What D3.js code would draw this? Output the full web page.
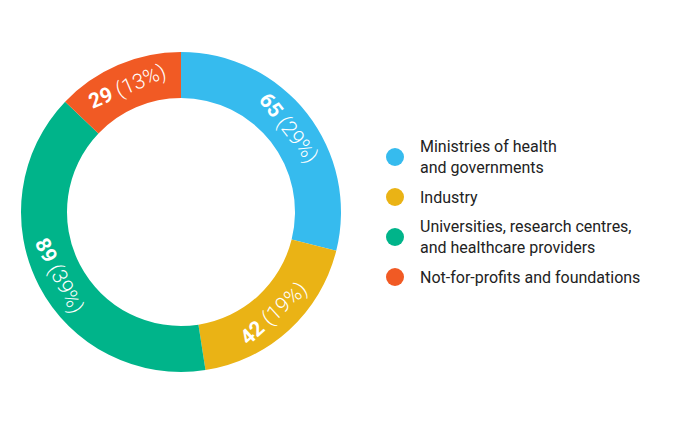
<!DOCTYPE html>
<html><head><meta charset="utf-8">
<script src="https://cdn.jsdelivr.net/npm/d3@7"></script>
<style>body{margin:0;background:#fff}</style></head>
<body><svg id="c" width="690" height="424"></svg>
<script>
const categories=[["Ministries of health","and governments"],["Industry"],["Universities, research centres,","and healthcare providers"],["Not-for-profits and foundations"]];
const values=[65,42,89,29];
const percents=["29%","19%","39%","13%"];
const colors=["#36BBEE","#EAB315","#00B48A","#F15A24"];
const svg=d3.select("#c");
const g=svg.append("g").attr("transform","translate(181,212)");
const pie=d3.pie().sort(null)(values);
const arc=d3.arc().innerRadius(114).outerRadius(160);
g.selectAll("path").data(pie).join("path").attr("d",arc).attr("fill",(d,i)=>colors[i]);
const font="Roboto, 'Open Sans', sans-serif";
pie.forEach((d,i)=>{
  const a=(d.startAngle+d.endAngle)/2, deg=a*180/Math.PI, r=137;
  const x=r*Math.sin(a), y=-r*Math.cos(a);
  const rot=(deg>90&&deg<270)?deg-180:deg;
  const t=g.append("text").attr("transform",`translate(${x},${y}) rotate(${rot})`)
    .attr("text-anchor","middle").attr("dy","0.35em").attr("fill","#fff")
    .style("font-family",font).style("font-size","21px");
  t.append("tspan").attr("font-weight","bold").text(values[i]);
  t.append("tspan").attr("font-weight","300").text(" ("+percents[i]+")");
});
const ys=[157,197,237,277];
const lg=svg.append("g");
categories.forEach((c,i)=>{
  lg.append("circle").attr("cx",395).attr("cy",ys[i]).attr("r",9).attr("fill",colors[i]);
  const t=lg.append("text").attr("x",420).attr("y",ys[i]-(c.length-1)*10.5+5.5)
    .attr("fill","#222").style("font-family",font).style("font-size","16px");
  c.forEach((l,j)=>t.append("tspan").attr("x",420).attr("dy",j?21:0).text(l));
});
</script></body></html>
